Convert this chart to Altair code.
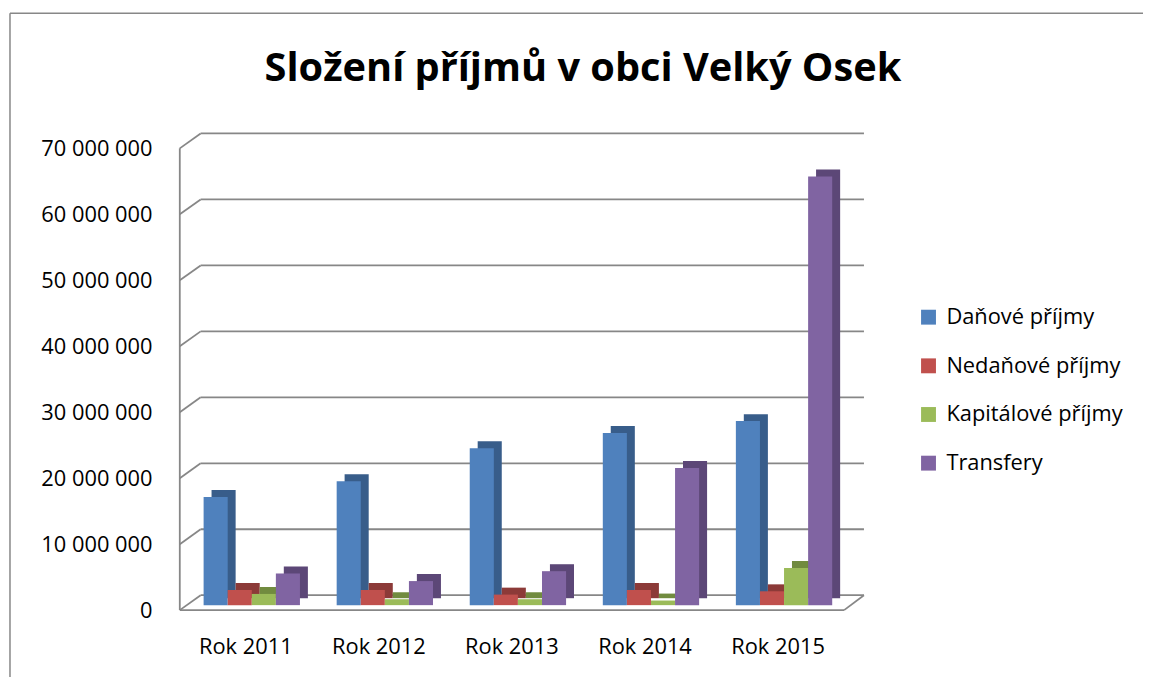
import altair as alt
import pandas as pd

# ---- data ----
title_text = "Složení příjmů v obci Velký Osek"
years = ["Rok 2011", "Rok 2012", "Rok 2013", "Rok 2014", "Rok 2015"]
series = ["Daňové příjmy", "Nedaňové příjmy", "Kapitálové příjmy", "Transfery"]
danove = [16400000, 18800000, 23800000, 26100000, 27900000]
nedanove = [2300000, 2300000, 1600000, 2300000, 2100000]
kapitalove = [1700000, 900000, 900000, 700000, 5650000]
transfery = [4800000, 3650000, 5150000, 20800000, 65000000]
ticks = [0, 10000000, 20000000, 30000000, 40000000, 50000000, 60000000, 70000000]

# ---- styles ----
front_colors = ["#4F81BD", "#C0504D", "#9BBB59", "#8064A2"]
side_colors = ["#385D8A", "#8C3A38", "#718B3F", "#5C4777"]
FONT = "Open Sans"
GRID = "#878787"
PLOT_W, PLOT_H = 681, 465
DEPTH_X, DEPTH_PX = 21, 15
YMAX = 70000000
SHIFT = DEPTH_PX * YMAX / PLOT_H

rows = []
for s, vals in zip(series, [danove, nedanove, kapitalove, transfery]):
    for y, v in zip(years, vals):
        rows.append({"year": y, "series": s, "value": v})
df = pd.DataFrame(rows)
tick_df = pd.DataFrame({"v": ticks})
wall_df = pd.DataFrame({"y0": [0], "y1": [YMAX], "s": [SHIFT]})
one = pd.DataFrame({"t": [title_text]})

yscale = alt.Scale(domain=[0, YMAX], nice=False)
yaxis = alt.Axis(title=None, domain=False, ticks=False, grid=False, values=ticks,
                 labelFont=FONT, labelFontSize=22, labelColor="black", labelPadding=28,
                 labelExpr="datum.value == 0 ? '0' : format(datum.value / 1000000, 'd') + ' 000 000'")
xscale = alt.Scale(domain=years, paddingInner=0.276, paddingOuter=0.179)
xscale_shadow = alt.Scale(domain=years, paddingInner=0.276, paddingOuter=0.179,
                          range=[8, PLOT_W + 8])

frame_top = alt.Chart(one).mark_rule(color="#878787", strokeWidth=1.5).encode(
    x=alt.value(-171), x2=alt.value(1100), y=alt.value(-136)
)
frame_left = alt.Chart(one).mark_rule(color="#878787", strokeWidth=1.5).encode(
    x=alt.value(-171), y=alt.value(-136), y2=alt.value(700)
)

title = alt.Chart(one).mark_text(font=FONT, fontSize=40, fontWeight="bold", color="black",
                                 baseline="alphabetic", align="center").encode(
    text="t:N", x=alt.value(406), y=alt.value(-68)
)

back_grid = alt.Chart(tick_df).transform_calculate(back=f"datum.v + {SHIFT}").mark_rule(
    color=GRID, strokeWidth=1.8
).encode(
    x=alt.value(DEPTH_X), x2=alt.value(PLOT_W + 8),
    y=alt.Y("back:Q", scale=yscale, axis=yaxis),
)

diag = alt.Chart(tick_df).transform_calculate(back=f"datum.v + {SHIFT}").mark_rule(
    color=GRID, strokeWidth=1.8
).encode(
    x=alt.value(0), x2=alt.value(DEPTH_X),
    y=alt.Y("v:Q", scale=yscale, axis=yaxis), y2="back:Q",
)

left_wall = alt.Chart(wall_df).mark_rule(color=GRID, strokeWidth=1.8).encode(
    x=alt.value(0), y=alt.Y("y0:Q", scale=yscale, axis=yaxis), y2="y1:Q"
)

floor_front = alt.Chart(wall_df).mark_rule(color=GRID, strokeWidth=1.8).encode(
    x=alt.value(0), x2=alt.value(PLOT_W - 12), y=alt.Y("y0:Q", scale=yscale, axis=yaxis)
)

floor_side = alt.Chart(wall_df).mark_rule(color=GRID, strokeWidth=1.8).encode(
    x=alt.value(PLOT_W - 12), x2=alt.value(PLOT_W + 8),
    y=alt.Y("y0:Q", scale=yscale, axis=yaxis), y2="s:Q",
)

shadow = alt.Chart(df).mark_bar(yOffset=-12).encode(
    x=alt.X("year:N", scale=xscale_shadow, sort=years, axis=None),
    xOffset=alt.XOffset("series:N", sort=series),
    y=alt.Y("value:Q", scale=yscale, axis=yaxis),
    color=alt.Color("series:N", scale=alt.Scale(domain=series, range=side_colors), legend=None),
)

bars = alt.Chart(df).mark_bar(yOffset=-5).encode(
    x=alt.X("year:N", scale=xscale, sort=years,
            axis=alt.Axis(title=None, domain=False, ticks=False, labelAngle=0,
                          labelFont=FONT, labelFontSize=22, labelColor="black",
                          labelPadding=27, labelOffset=-6)),
    xOffset=alt.XOffset("series:N", sort=series),
    y=alt.Y("value:Q", scale=yscale, axis=yaxis),
    color=alt.Color("series:N", scale=alt.Scale(domain=series, range=front_colors),
                    legend=alt.Legend(title=None, orient="none", legendX=743, legendY=159,
                                      labelFont=FONT, labelFontSize=22, labelColor="black",
                                      labelLimit=400,
                                      symbolType="square", symbolSize=225, symbolStrokeWidth=0,
                                      symbolOpacity=1, rowPadding=27, labelOffset=7, padding=0)),
)

chart = alt.layer(frame_top, frame_left, title, back_grid, diag, left_wall, floor_front, floor_side,
                  shadow, bars).resolve_scale(
    color="independent", x="independent"
).properties(
    width=PLOT_W, height=PLOT_H,
    autosize=alt.AutoSizeParams(type="none"),
    padding={"left": 173, "top": 139, "right": 289, "bottom": 65},
).configure_view(strokeWidth=0)

chart.save("out.html", embed_options={"renderer": "svg", "actions": False})
